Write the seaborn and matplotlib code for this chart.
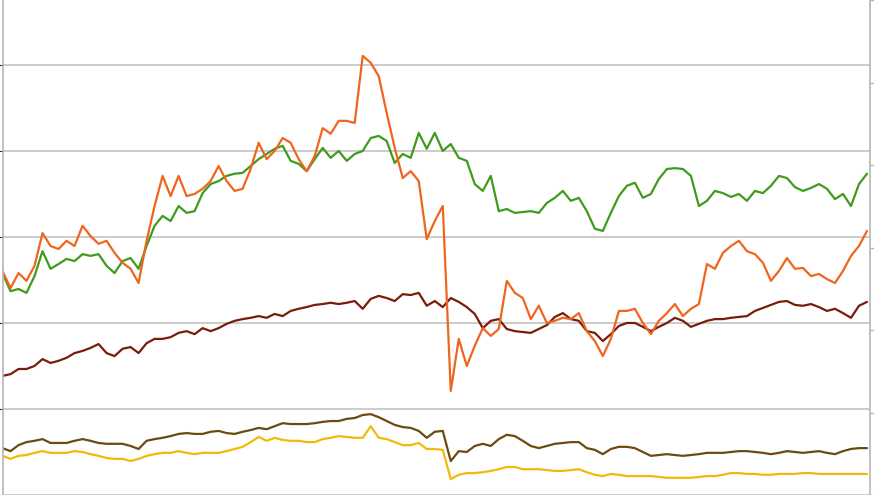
import matplotlib
matplotlib.use("Agg")
import matplotlib.pyplot as plt
import numpy as np
import pandas as pd
import seaborn as sns

green = [51.6, 47.4, 47.9, 47.0, 50.9, 56.7, 52.6, 53.7, 54.9, 54.4,
         56.0, 55.6, 56.0, 53.3, 51.6, 54.4, 55.1, 52.6, 57.9, 62.6,
         64.9, 63.7, 67.2, 65.6, 66.0, 70.2, 72.3, 73.0, 74.2, 74.7,
         74.9, 76.5, 78.1, 79.3, 80.5, 81.2, 77.7, 77.0, 75.3, 78.1,
         80.7, 78.4, 80.0, 77.7, 79.3, 80.0, 83.0, 83.5, 82.3, 77.2,
         79.3, 78.4, 84.2, 80.5, 84.2, 80.0, 81.6, 78.4, 77.7, 72.3,
         70.7, 74.2, 66.0, 66.5, 65.6, 65.8, 66.0, 65.6, 67.9, 69.1,
         70.7, 68.4, 69.1, 66.0, 61.9, 61.4, 65.6, 69.5, 71.9, 72.6,
         69.1, 70.0, 73.5, 75.8, 76.0, 75.8, 74.2, 67.2, 68.4, 70.7,
         70.2, 69.3, 70.0, 68.4, 70.7, 70.2, 71.9, 74.2, 73.7, 71.6,
         70.7, 71.4, 72.3, 71.2, 68.8, 70.0, 67.2, 72.3, 74.7]

orange = [52.1, 48.1, 51.6, 49.8, 53.3, 60.9, 57.9, 57.2, 59.1, 57.9,
          62.6, 60.2, 58.4, 59.1, 56.3, 54.0, 52.6, 49.3, 59.1, 67.2,
          74.2, 69.5, 74.2, 69.5, 70.0, 71.2, 73.0, 76.5, 73.0, 70.7,
          71.2, 75.8, 81.9, 78.1, 80.0, 83.0, 81.9, 78.1, 75.3, 78.8,
          85.3, 84.0, 87.0, 87.0, 86.5, 102.1, 100.5, 97.4, 88.8, 80.7,
          73.7, 75.3, 73.0, 59.5, 63.7, 67.2, 24.2, 36.3, 30.0, 34.7,
          38.8, 37.0, 38.6, 49.8, 47.0, 45.8, 40.9, 44.0, 40.0, 40.5,
          41.2, 40.9, 42.3, 38.1, 35.8, 32.3, 36.3, 42.8, 42.8, 43.3,
          40.0, 37.4, 40.5, 42.3, 44.4, 41.6, 43.3, 44.4, 53.7, 52.6,
          56.3, 57.9, 59.1, 56.7, 56.0, 54.0, 49.8, 52.1, 55.1, 52.6,
          52.8, 50.9, 51.4, 50.2, 49.3, 52.1, 55.6, 57.9, 61.4]

maroon = [27.7, 28.1, 29.3, 29.3, 30.0, 31.6, 30.7, 31.2, 31.9, 33.0,
          33.5, 34.2, 35.1, 33.0, 32.3, 34.0, 34.4, 33.0, 35.3, 36.3,
          36.3, 36.7, 37.7, 38.1, 37.4, 38.8, 38.1, 38.8, 39.8, 40.5,
          40.9, 41.2, 41.6, 41.2, 42.1, 41.6, 42.8, 43.3, 43.7, 44.2,
          44.4, 44.7, 44.4, 44.7, 45.1, 43.3, 45.6, 46.3, 45.8, 45.1,
          46.7, 46.5, 47.0, 44.0, 45.1, 43.7, 45.8, 44.9, 43.7, 42.1,
          38.8, 40.5, 40.9, 38.6, 38.1, 37.9, 37.7, 38.6, 39.5, 41.4,
          42.3, 40.9, 40.5, 38.1, 37.7, 35.8, 37.4, 39.3, 40.0, 40.0,
          39.1, 38.1, 39.1, 40.0, 41.2, 40.5, 39.1, 39.8, 40.5, 40.9,
          40.9, 41.2, 41.4, 41.6, 42.8, 43.5, 44.2, 44.9, 45.1, 44.2,
          44.0, 44.4, 43.7, 42.8, 43.3, 42.3, 41.2, 44.0, 44.9]

olive = [10.9, 10.2, 11.6, 12.3, 12.6, 13.0, 12.1, 12.1, 12.1, 12.6,
         13.0, 12.6, 12.1, 11.9, 11.9, 11.9, 11.4, 10.7, 12.6, 13.0,
         13.3, 13.7, 14.2, 14.4, 14.2, 14.2, 14.7, 14.9, 14.4, 14.2,
         14.7, 15.1, 15.6, 15.3, 16.0, 16.7, 16.5, 16.5, 16.5, 16.7,
         17.0, 17.2, 17.2, 17.7, 17.9, 18.6, 18.8, 18.1, 17.2, 16.3,
         15.8, 15.6, 14.9, 13.3, 14.7, 14.9, 7.9, 10.2, 10.0, 11.4,
         11.9, 11.4, 13.0, 14.0, 13.7, 12.6, 11.4, 10.9, 11.4, 11.9,
         12.1, 12.3, 12.3, 10.9, 10.5, 9.5, 10.7, 11.2, 11.2, 10.9,
         10.0, 9.1, 9.3, 9.5, 9.3, 9.1, 9.3, 9.5, 9.8, 9.8,
         9.8, 10.0, 10.2, 10.2, 10.0, 9.8, 9.5, 9.8, 10.2, 10.0,
         9.8, 10.0, 10.2, 9.8, 9.5, 10.2, 10.7, 10.9, 10.9]

yellow = [9.1, 8.4, 9.1, 9.3, 9.8, 10.2, 9.8, 9.8, 9.8, 10.2,
          10.0, 9.5, 9.1, 8.6, 8.4, 8.4, 7.9, 8.4, 9.1, 9.5,
          9.8, 9.8, 10.2, 9.8, 9.5, 9.8, 9.8, 9.8, 10.2, 10.7,
          11.2, 12.3, 13.5, 12.6, 13.3, 12.8, 12.6, 12.6, 12.3, 12.3,
          13.0, 13.3, 13.7, 13.5, 13.3, 13.3, 16.0, 13.3, 13.0, 12.3,
          11.6, 11.6, 12.1, 10.7, 10.7, 10.5, 3.7, 4.7, 5.1, 5.1,
          5.3, 5.6, 6.0, 6.5, 6.5, 6.0, 6.0, 6.0, 5.8, 5.6,
          5.6, 5.8, 6.0, 5.3, 4.7, 4.4, 4.9, 4.7, 4.4, 4.4,
          4.4, 4.4, 4.2, 4.0, 4.0, 4.0, 4.0, 4.2, 4.4, 4.4,
          4.7, 5.1, 5.1, 4.9, 4.9, 4.7, 4.7, 4.9, 4.9, 4.9,
          5.1, 5.1, 4.9, 4.9, 4.9, 4.9, 4.9, 4.9, 4.9]

series = {"green": green, "maroon": maroon, "orange": orange,
          "olive": olive, "yellow": yellow}
colors = {"green": "#3f9b1c", "maroon": "#7a1c0c", "orange": "#f0651e",
          "olive": "#6b4b10", "yellow": "#f3b90a"}

frames = []
for name, vals in series.items():
    frames.append(pd.DataFrame({"step": np.arange(len(vals)), "value": vals, "series": name}))
df = pd.concat(frames, ignore_index=True)

sns.set_style("white")
fig = plt.figure(figsize=(8.74, 4.95), dpi=100)
ax = fig.add_axes([2.5 / 874, 0, 867.5 / 874, 1])

sns.lineplot(data=df, x="step", y="value", hue="series", palette=colors,
             hue_order=list(series.keys()), linewidth=1.6, legend=False, ax=ax)

ax.set_xlim(0, 108.375)
ax.set_ylim(0, 115.1)
ax.set_yticks([0, 20, 40, 60, 80, 100])
ax.set_xticks([])
ax.set_yticklabels([])
ax.grid(axis="y", color="#c8c8c8", linewidth=1.3)
ax.set_axisbelow(True)
ax.set_xlabel("")
ax.set_ylabel("")
for side in ["top", "bottom", "right"]:
    ax.spines[side].set_visible(False)
ax.spines["left"].set_color("#b5b5b5")
ax.spines["left"].set_linewidth(1.2)

ax2 = ax.twinx()
ax2.set_ylim(0, 6)
ax2.set_yticks(range(7))
ax2.set_yticklabels([])
ax2.tick_params(axis="y", direction="out", length=4, color="#b5b5b5", width=1)
for side in ["top", "bottom", "left"]:
    ax2.spines[side].set_visible(False)
ax2.spines["right"].set_color("#b5b5b5")
ax2.spines["right"].set_linewidth(1.2)

fig.savefig("out.png", dpi=100)
